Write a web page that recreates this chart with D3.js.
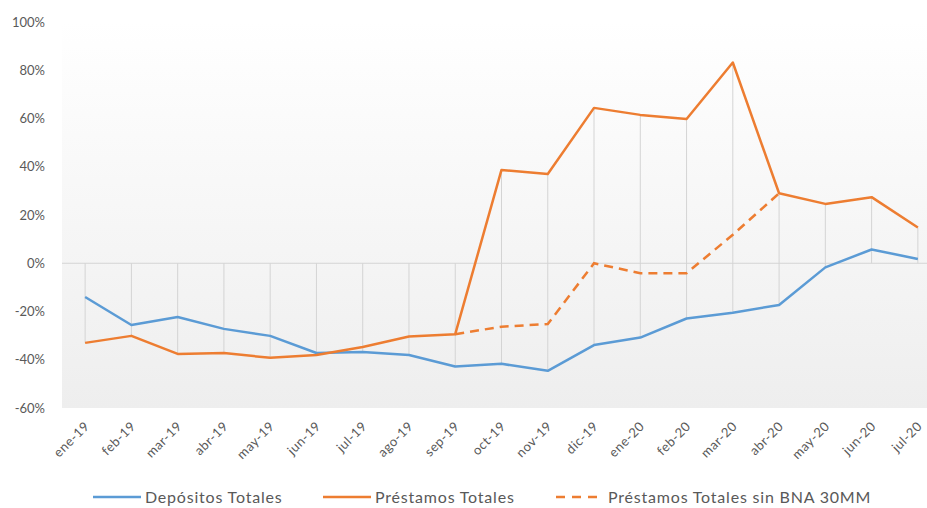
<!DOCTYPE html>
<meta charset="utf-8">
<title>Depósitos y Préstamos</title>
<script src="https://d3js.org/d3.v7.min.js"></script>
<style>
body { margin:0; background:#fff; }
svg { display:block; font-family: Lato, "Open Sans", sans-serif; }
.tick-y { fill:#595959; font-size:13px; }
.tick-x { fill:#595959; font-size:13px; letter-spacing:0.5px; }
.legend text { fill:#595959; font-size:16px; letter-spacing:0.8px; }
</style>
<svg width="927" height="508"></svg>
<script>

var months = ["ene-19","feb-19","mar-19","abr-19","may-19","jun-19","jul-19","ago-19","sep-19",
  "oct-19","nov-19","dic-19","ene-20","feb-20","mar-20","abr-20","may-20","jun-20","jul-20"];

var depositos = [-14, -25.6, -22.3, -27.2, -30.1, -37.2, -36.8, -38, -42.8, -41.7, -44.6,
  -33.9, -30.8, -22.9, -20.5, -17.3, -1.7, 5.7, 1.8];

var prestamos = [-33, -30.1, -37.6, -37.2, -39.2, -38, -34.7, -30.4, -29.4, 38.7, 37,
  64.4, 61.5, 59.8, 83.2, 29, 24.6, 27.4, 14.8];

var prestamosSinBNA = [null, null, null, null, null, null, null, null, -29.4, -26.3, -25.2,
  0, -4.1, -4.1, 11.8, 29, null, null, null];

var yTicks = [-60, -40, -20, 0, 20, 40, 60, 80, 100];

var seriesNames = ["Depósitos Totales", "Préstamos Totales", "Préstamos Totales sin BNA 30MM"];

var svg = d3.select("svg");

var x = d3.scaleBand().domain(months).range([62, 941]).padding(0);
var y = d3.scaleLinear().domain([-60, 100]).range([408, 22]);
var cx = function(m) { return x(m) + x.bandwidth() / 2; };

// plot area background
var grad = svg.append("defs").append("linearGradient")
    .attr("id", "bg").attr("x1", 0).attr("y1", 0).attr("x2", 0).attr("y2", 1);
grad.append("stop").attr("offset", "0%").attr("stop-color", "#ffffff");
grad.append("stop").attr("offset", "100%").attr("stop-color", "#eeeeee");

svg.append("rect")
    .attr("x", x.range()[0]).attr("y", y(100))
    .attr("width", x.range()[1] - x.range()[0])
    .attr("height", y(-60) - y(100))
    .attr("fill", "url(#bg)");

// drop lines
svg.append("g").selectAll("line")
  .data(months)
  .enter().append("line")
    .attr("x1", cx).attr("x2", cx)
    .attr("y1", function(m, i) {
      var v = [depositos[i], prestamos[i], prestamosSinBNA[i]].filter(function(d) { return d != null; });
      return y(Math.max(0, d3.max(v)));
    })
    .attr("y2", function(m, i) {
      var v = [depositos[i], prestamos[i], prestamosSinBNA[i]].filter(function(d) { return d != null; });
      return y(Math.min(0, d3.min(v)));
    })
    .attr("stroke", "#d4d4d4").attr("stroke-width", 1);

// zero axis
svg.append("line")
    .attr("x1", x.range()[0]).attr("x2", x.range()[1])
    .attr("y1", y(0)).attr("y2", y(0))
    .attr("stroke", "#d4d4d4").attr("stroke-width", 1);

// y labels
svg.append("g").selectAll("text")
  .data(yTicks)
  .enter().append("text")
    .attr("class", "tick-y")
    .attr("x", 45)
    .attr("y", function(d) { return y(d); })
    .attr("dy", "0.35em")
    .attr("text-anchor", "end")
    .text(function(d) { return d + "%"; });

// x labels
svg.append("g").selectAll("text")
  .data(months)
  .enter().append("text")
    .attr("class", "tick-x")
    .attr("text-anchor", "end")
    .attr("transform", function(m) { return "translate(" + (cx(m) + 5) + ",427) rotate(-45)"; })
    .text(function(m) { return m; });

var line = d3.line()
    .defined(function(d) { return d != null; })
    .x(function(d, i) { return cx(months[i]); })
    .y(function(d) { return y(d); });

svg.append("path").datum(depositos)
    .attr("d", line).attr("fill", "none")
    .attr("stroke", "#5b9bd5").attr("stroke-width", 2.5).attr("stroke-linejoin", "round");

svg.append("path").datum(prestamosSinBNA)
    .attr("d", line).attr("fill", "none")
    .attr("stroke", "#ed7d31").attr("stroke-width", 2.5)
    .attr("stroke-dasharray", "9,6");

svg.append("path").datum(prestamos)
    .attr("d", line).attr("fill", "none")
    .attr("stroke", "#ed7d31").attr("stroke-width", 2.5).attr("stroke-linejoin", "round");

// legend
var legendX = [93, 323, 556];
var legendDash = [null, null, "9,7"];
var legendColor = ["#5b9bd5", "#ed7d31", "#ed7d31"];
var lg = svg.append("g").attr("class", "legend");
seriesNames.forEach(function(name, i) {
  lg.append("line")
      .attr("x1", legendX[i]).attr("x2", legendX[i] + 48)
      .attr("y1", 497).attr("y2", 497)
      .attr("stroke", legendColor[i]).attr("stroke-width", 2.5)
      .attr("stroke-dasharray", legendDash[i]);
  lg.append("text")
      .attr("x", legendX[i] + 52).attr("y", 497).attr("dy", "0.35em")
      .text(name);
});

</script>
</html>
